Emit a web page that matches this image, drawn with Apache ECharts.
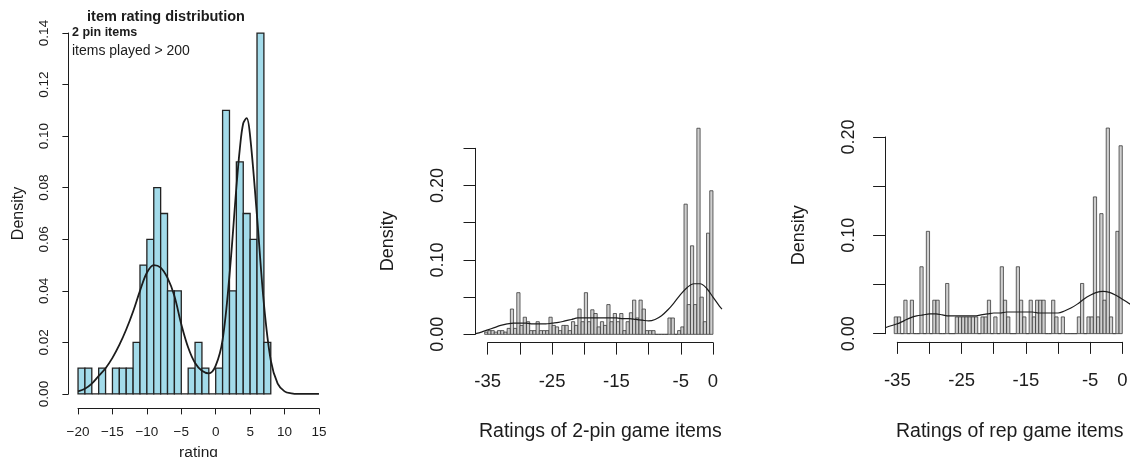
<!DOCTYPE html>
<html><head><meta charset="utf-8">
<script src="https://cdn.jsdelivr.net/npm/echarts@6/dist/echarts.min.js"></script>
<style>html,body{margin:0;padding:0;background:#fff}#c{width:1130px;height:457px}</style>
</head><body><div id="c"></div>
<script>
// ---------------- DATA ----------------
// Panel 1: item rating distribution (2 pin items, played > 200), bins of width 1
const binStarts1 = [-20,-19,-18,-17,-16,-15,-14,-13,-12,-11,-10,-9,-8,-7,-6,-5,-4,-3,-2,-1,0,1,2,3,4,5,6,7];
const binWidth1 = 1;
const density1 = [0.01,0.01,0,0.01,0,0.01,0.01,0.01,0.02,0.05,0.06,0.08,0.07,0.04,0.04,0,0.01,0.02,0.01,0,0.01,0.11,0.04,0.09,0.07,0.06,0.14,0.02];
const curveX1 = [-20,-19,-18,-17,-16,-15,-14,-13,-12,-11,-10,-9,-8,-7,-6,-5,-4,-3,-2,-1,0,1,2,3,3.5,4,4.5,5,6,7,8,9,10,11,12,13,14,15];
const curveY1 = [0.001,0.002,0.004,0.007,0.010,0.014,0.019,0.025,0.032,0.040,0.047,0.050,0.049,0.045,0.038,0.027,0.018,0.012,0.009,0.008,0.011,0.021,0.046,0.080,0.095,0.105,0.107,0.100,0.069,0.035,0.013,0.004,0.001,0.0002,0,0,0,0];
const xTicks1 = [-20,-15,-10,-5,0,5,10,15];
const yTicks1 = [0,0.02,0.04,0.06,0.08,0.10,0.12,0.14];

// Panels 2 and 3 share the same bins of width 0.5
const binStarts23 = [-35.5,-35,-34.5,-34,-33.5,-33,-32.5,-32,-31.5,-31,-30.5,-30,-29.5,-29,-28.5,-28,-27.5,-27,-26.5,-26,-25.5,-25,-24.5,-24,-23.5,-23,-22.5,-22,-21.5,-21,-20.5,-20,-19.5,-19,-18.5,-18,-17.5,-17,-16.5,-16,-15.5,-15,-14.5,-14,-13.5,-13,-12.5,-12,-11.5,-11,-10.5,-10,-9.5,-9,-8.5,-8,-7.5,-7,-6.5,-6,-5.5,-5,-4.5,-4,-3.5,-3,-2.5,-2,-1.5,-1,-0.5];
const binWidth23 = 0.5;

// Panel 2: ratings of 2-pin game items
const density2 = [0.003,0.005,0.005,0.003,0.005,0.005,0.003,0.008,0.034,0.008,
  0.056,0.012,0.023,0.017,0.005,0.005,0.017,0.005,0.005,0.005,
  0.023,0.012,0.010,0.005,0.012,0.012,0.005,0.017,0.012,0.034,
  0.017,0.056,0.017,0.033,0.028,0.010,0.017,0.012,0.040,0.017,
  0.028,0.017,0.028,0.005,0.017,0.029,0.046,0.022,0.046,0.034,
  0.005,0.005,0.005,0,0,0,0,0.022,0.022,0,
  0.005,0.010,0.175,0.040,0.119,0.040,0.277,0.050,0.017,0.136,
  0.193];
const curveX2 = [-36.9,-36,-35,-34,-33,-32,-31,-30,-29,-28,-27,-26,-25,-24,-23,-22,-21,-20,-19,-18,-17,-16,-15,-14,-13,-12,-11,-10,-9,-8,-7,-6,-5,-4,-3,-2,-1,0,1,1.4];
const curveY2 = [0.001,0.003,0.006,0.009,0.012,0.014,0.015,0.015,0.015,0.014,0.014,0.014,0.015,0.016,0.018,0.020,0.022,0.022,0.022,0.022,0.022,0.022,0.022,0.021,0.021,0.020,0.019,0.018,0.020,0.025,0.033,0.043,0.054,0.063,0.068,0.068,0.062,0.050,0.038,0.034];

// Panel 3: ratings of rep game items
const density3 = [0.017,0.017,0,0.034,0,0.034,0,0,0.068,0,
  0.104,0,0.034,0.034,0,0,0.051,0,0,0.017,
  0.017,0.017,0.017,0.017,0.017,0.017,0,0.017,0.017,0.034,
  0,0.017,0,0.068,0.034,0.017,0,0,0.068,0.034,
  0.017,0,0.034,0.017,0.034,0.034,0.034,0,0,0.034,
  0.017,0,0.017,0,0,0,0,0.017,0.051,0,
  0.017,0.017,0.139,0.017,0.122,0.034,0.209,0.017,0,0.104,
  0.191];
const curveX3 = [-36.9,-36,-35,-34,-33,-32,-31,-30,-29,-28,-27,-26,-25,-24,-23,-22,-21,-20,-19,-18,-17,-16,-15,-14,-13,-12,-11,-10,-9,-8,-7,-6,-5,-4,-3,-2,-1,0,1,1.4];
const curveY3 = [0.006,0.008,0.010,0.013,0.016,0.018,0.019,0.020,0.020,0.019,0.018,0.018,0.018,0.018,0.018,0.019,0.020,0.021,0.021,0.022,0.022,0.022,0.022,0.022,0.021,0.021,0.021,0.021,0.023,0.026,0.030,0.035,0.039,0.042,0.043,0.042,0.039,0.035,0.031,0.029];

const xTickLabels23 = [-35,-25,-15,-5,0];
const yTickLabels2 = [0,0.1,0.2];
const yTickLabels3 = [0,0.1,0.2];

// ---------------- CHART ----------------
const FONT = '"Liberation Sans", Arial, Helvetica, sans-serif';
const INK = '#1c1c1c';
const chart = echarts.init(document.getElementById('c'));

function histData(starts, width, dens) { return dens.map((d, i) => [starts[i], starts[i] + width, d]); }
function histSeries(idx, data, fill, stroke, lw) {
  return {
    type: 'custom', xAxisIndex: idx, yAxisIndex: idx, data: data, clip: false,
    encode: { x: [0, 1], y: 2 },
    renderItem: function (params, api) {
      const a = api.coord([api.value(0), 0]);
      const b = api.coord([api.value(1), api.value(2)]);
      return { type: 'rect', shape: { x: a[0], y: b[1], width: b[0] - a[0], height: a[1] - b[1] },
        style: { fill: fill, stroke: stroke, lineWidth: lw } };
    }
  };
}
function curveSeries(idx, xs, ys, w) {
  return { type: 'line', xAxisIndex: idx, yAxisIndex: idx, data: xs.map((x, i) => [x, ys[i]]),
    showSymbol: false, symbol: 'none', smooth: 0.35, lineStyle: { color: INK, width: w }, silent: true, z: 5 };
}
const near = (arr, v) => arr.some(t => Math.abs(t - v) < 1e-9);
function hidden(grid, min, max) { return { gridIndex: grid, type: 'value', min: min, max: max, show: false }; }
function visX(o) {
  return { gridIndex: o.grid, type: 'value', min: o.min, max: o.max, interval: o.interval, position: 'bottom', offset: o.offset,
    axisLine: { show: true, onZero: false, lineStyle: { color: INK, width: 1 } },
    axisTick: { show: true, length: o.tick, lineStyle: { color: INK, width: 1 } },
    splitLine: { show: false },
    axisLabel: { show: true, fontSize: o.fs, color: INK, fontFamily: FONT, margin: o.margin, showMinLabel: true, showMaxLabel: true,
      formatter: v => near(o.labels, v) ? o.fmt(v) : '' },
    name: o.name, nameLocation: 'middle', nameGap: o.nameGap,
    nameTextStyle: { fontSize: o.nameFs, color: INK, fontFamily: FONT } };
}
function visY(o) {
  return { gridIndex: o.grid, type: 'value', min: o.min, max: o.max, interval: o.interval, position: 'left', offset: o.offset,
    axisLine: { show: true, onZero: false, lineStyle: { color: INK, width: 1 } },
    axisTick: { show: true, length: o.tick, lineStyle: { color: INK, width: 1 } },
    splitLine: { show: false },
    axisLabel: { show: true, rotate: 90, fontSize: o.fs, color: INK, fontFamily: FONT, margin: o.margin, showMinLabel: true, showMaxLabel: true,
      formatter: v => near(o.labels, v) ? v.toFixed(2) : '' },
    name: o.name, nameLocation: 'middle', nameGap: o.nameGap,
    nameTextStyle: { fontSize: o.nameFs, color: INK, fontFamily: FONT } };
}
const g = (left, top, width, height) => ({ left, top, width, height, containLabel: false, outerBoundsMode: 'none' });
const minus = v => v < 0 ? '\u2212' + Math.abs(v) : String(v);
const hyph = v => String(v);

const option = {
  animation: false,
  backgroundColor: '#ffffff',
  textStyle: { fontFamily: FONT, color: INK },
  title: [
    { text: 'item rating distribution', left: 166, top: 9, textAlign: 'center', padding: 0,
      textStyle: { fontSize: 14.5, fontWeight: 'bold', color: INK, fontFamily: FONT } },
    { text: '2 pin items', left: 72, top: 26, padding: 0,
      textStyle: { fontSize: 12.5, fontWeight: 'bold', color: INK, fontFamily: FONT } },
    { text: 'items played > 200', left: 72, top: 44, padding: 0,
      textStyle: { fontSize: 14, fontWeight: 'normal', color: INK, fontFamily: FONT } }
  ],
  grid: [
    g(68.4, 18.6, 260.2, 389.8),
    g(475.5, 120, 246.6, 222.6),
    g(885.1, 119.8, 246.3, 222.1),
    g(78, 33, 241, 361),
    g(487.7, 148.3, 225.3, 186),
    g(897.3, 137, 225, 196.7)
  ],
  xAxis: [
    hidden(0, -21.4, 16.4),
    hidden(1, -36.92, 1.42),
    hidden(2, -36.92, 1.42),
    visX({ grid: 3, min: -20, max: 15, interval: 5, offset: 14.4, tick: 6, fs: 13.5, margin: 17, labels: xTicks1, fmt: minus,
      name: 'rating', nameGap: 28.5, nameFs: 15.5 }),
    visX({ grid: 4, min: -35, max: 0, interval: 5, offset: 8.3, tick: 12, fs: 18.5, margin: 29.5, labels: xTickLabels23, fmt: hyph,
      name: 'Ratings of 2-pin game items', nameGap: 79.5, nameFs: 19.5 }),
    visX({ grid: 5, min: -35, max: 0, interval: 5, offset: 8.2, tick: 12, fs: 18.5, margin: 29.5, labels: xTickLabels23, fmt: hyph,
      name: 'Ratings of rep game items', nameGap: 80, nameFs: 19.5 })
  ],
  yAxis: [
    hidden(0, -0.0056, 0.1456),
    hidden(1, -0.0111, 0.2881),
    hidden(2, -0.0084, 0.2174),
    visY({ grid: 3, min: 0, max: 0.14, interval: 0.02, offset: 9.6, tick: 6, fs: 13.5, margin: 17, labels: yTicks1,
      name: 'Density', nameGap: 42, nameFs: 16 }),
    visY({ grid: 4, min: 0, max: 0.25, interval: 0.05, offset: 12.2, tick: 12, fs: 18, margin: 28.5, labels: yTickLabels2,
      name: 'Density', nameGap: 78.5, nameFs: 18 }),
    visY({ grid: 5, min: 0, max: 0.2, interval: 0.05, offset: 12.2, tick: 12, fs: 18, margin: 27, labels: yTickLabels3,
      name: 'Density', nameGap: 77, nameFs: 18 })
  ],
  series: [
    histSeries(0, histData(binStarts1, binWidth1, density1), '#a3dbea', '#222222', 1.3),
    curveSeries(0, curveX1, curveY1, 1.8),
    histSeries(1, histData(binStarts23, binWidth23, density2), '#cfcfcf', '#3a3a3a', 0.8),
    curveSeries(1, curveX2, curveY2, 1.2),
    histSeries(2, histData(binStarts23, binWidth23, density3), '#cfcfcf', '#3a3a3a', 0.8),
    curveSeries(2, curveX3, curveY3, 1.2)
  ]
};
chart.setOption(option);
</script>
</body></html>
